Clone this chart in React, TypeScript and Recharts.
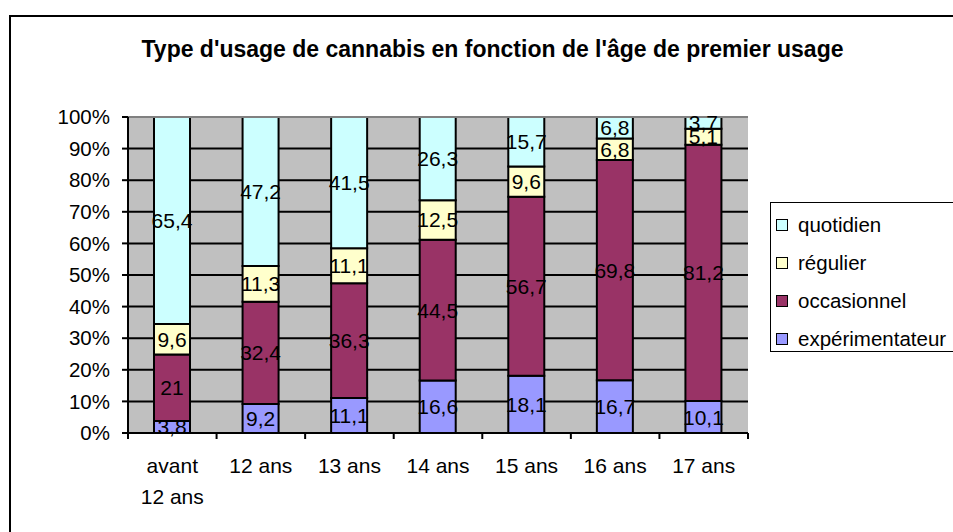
import React from 'react';
import { BarChart, Bar, XAxis, YAxis, CartesianGrid, LabelList, ReferenceLine } from 'recharts';

const title = "Type d'usage de cannabis en fonction de l'âge de premier usage";
const categories = ['avant\n12 ans', '12 ans', '13 ans', '14 ans', '15 ans', '16 ans', '17 ans'];
const experimentateur = [3.8, 9.2, 11.1, 16.6, 18.1, 16.7, 10.1];
const occasionnel = [21, 32.4, 36.3, 44.5, 56.7, 69.8, 81.2];
const regulier = [9.6, 11.3, 11.1, 12.5, 9.6, 6.8, 5.1];
const quotidien = [65.4, 47.2, 41.5, 26.3, 15.7, 6.8, 3.7];
const yTicks = [0, 0.1, 0.2, 0.3, 0.4, 0.5, 0.6, 0.7, 0.8, 0.9, 1];

const series = [
  { key: 'experimentateur', name: 'expérimentateur', color: '#9999FF' },
  { key: 'occasionnel', name: 'occasionnel', color: '#993366' },
  { key: 'regulier', name: 'régulier', color: '#FFFFCC' },
  { key: 'quotidien', name: 'quotidien', color: '#CCFFFF' },
];

const data = categories.map((cat, i) => ({
  cat,
  experimentateur: experimentateur[i],
  occasionnel: occasionnel[i],
  regulier: regulier[i],
  quotidien: quotidien[i],
}));

const FONT = '"Liberation Sans", Arial, sans-serif';
const CHART_W = 944;
const CHART_H = 517;
const MARGIN = { top: 102, right: 205, bottom: 39, left: 0 };
const Y_W = 119;
const BAND = (CHART_W - MARGIN.right - MARGIN.left - Y_W) / categories.length;

const CatTick = (props: any) => {
  const { x, y, payload, index } = props;
  const lines = String(payload.value).split('\n');
  const half = BAND / 2;
  return (
    <g>
      <line x1={x - half} x2={x - half} y1={y} y2={y + 6} stroke="#000" strokeWidth={2} />
      {index === categories.length - 1 && (
        <line x1={x + half} x2={x + half} y1={y} y2={y + 6} stroke="#000" strokeWidth={2} />
      )}
      <text x={x} y={y + 33} textAnchor="middle" fontSize={21} fontFamily={FONT} fill="#000">
        {lines.map((l, i) => (
          <tspan key={i} x={x} dy={i === 0 ? '0.355em' : 31}>{l}</tspan>
        ))}
      </text>
    </g>
  );
};

const fmt = (v: any) => String(v).replace('.', ',');

export default function App() {
  return (
    <div
      style={{
        position: 'absolute',
        left: 9,
        top: 15,
        width: CHART_W,
        height: CHART_H,
        borderTop: '2px solid #000',
        borderLeft: '2px solid #000',
        boxSizing: 'border-box',
        overflow: 'hidden',
        background: '#fff',
        fontFamily: FONT,
      }}
    >
      <div
        style={{
          position: 'absolute',
          left: 0,
          top: 19,
          width: 963,
          textAlign: 'center',
          fontWeight: 'bold',
          fontSize: 23,
          lineHeight: '26px',
          color: '#000',
        }}
      >
        {title}
      </div>
      <div style={{ position: 'absolute', left: -2, top: -2 }}>
        <BarChart width={CHART_W} height={CHART_H} data={data} stackOffset="expand" margin={MARGIN} barSize={36}>
          <CartesianGrid vertical={false} stroke="#000" strokeWidth={2} fill="#C0C0C0" fillOpacity={1} />
          <XAxis
            dataKey="cat"
            tick={<CatTick />}
            tickLine={false}
            tickSize={0}
            tickMargin={0}
            interval={0}
            height={60}
            axisLine={{ stroke: '#000', strokeWidth: 2 }}
          />
          <YAxis
            width={Y_W}
            domain={[0, 1]}
            ticks={yTicks}
            tickFormatter={(v: number) => `${Math.round(v * 100)}%`}
            tick={{ fontSize: 20.5, fontFamily: FONT, fill: '#000' }}
            tickLine={{ stroke: '#000', strokeWidth: 2 }}
            tickSize={6}
            tickMargin={12}
            axisLine={{ stroke: '#000', strokeWidth: 2 }}
            interval={0}
          />
          <YAxis
            yAxisId="edge"
            orientation="right"
            width={0}
            domain={[0, 1]}
            tick={false}
            tickLine={false}
            axisLine={{ stroke: '#808080', strokeWidth: 2 }}
          />
          <ReferenceLine y={1} stroke="#808080" strokeWidth={2} />
          {series.map((s) => (
            <Bar
              key={s.key}
              dataKey={s.key}
              name={s.name}
              stackId="a"
              fill={s.color}
              stroke="#000"
              strokeWidth={2}
              isAnimationActive={false}
            >
              <LabelList
                dataKey={s.key}
                position="center"
                formatter={fmt}
                fill="#000"
                fontSize={21}
                fontFamily={FONT}
              />
            </Bar>
          ))}
        </BarChart>
      </div>
      <div
        style={{
          position: 'absolute',
          left: 759,
          top: 185,
          width: 230,
          height: 150,
          border: '1.5px solid #000',
          boxSizing: 'border-box',
          background: '#fff',
        }}
      >
        {[...series].reverse().map((s, i) => (
          <div
            key={s.key}
            style={{
              position: 'absolute',
              left: 5,
              top: 10 + i * 38,
              height: 24,
              display: 'flex',
              alignItems: 'center',
              fontSize: 20.5,
              whiteSpace: 'nowrap',
              color: '#000',
            }}
          >
            <span
              style={{
                display: 'inline-block',
                width: 12,
                height: 12,
                background: s.color,
                border: '1.5px solid #000',
                boxSizing: 'border-box',
                marginRight: 10,
              }}
            />
            {s.name}
          </div>
        ))}
      </div>
    </div>
  );
}
